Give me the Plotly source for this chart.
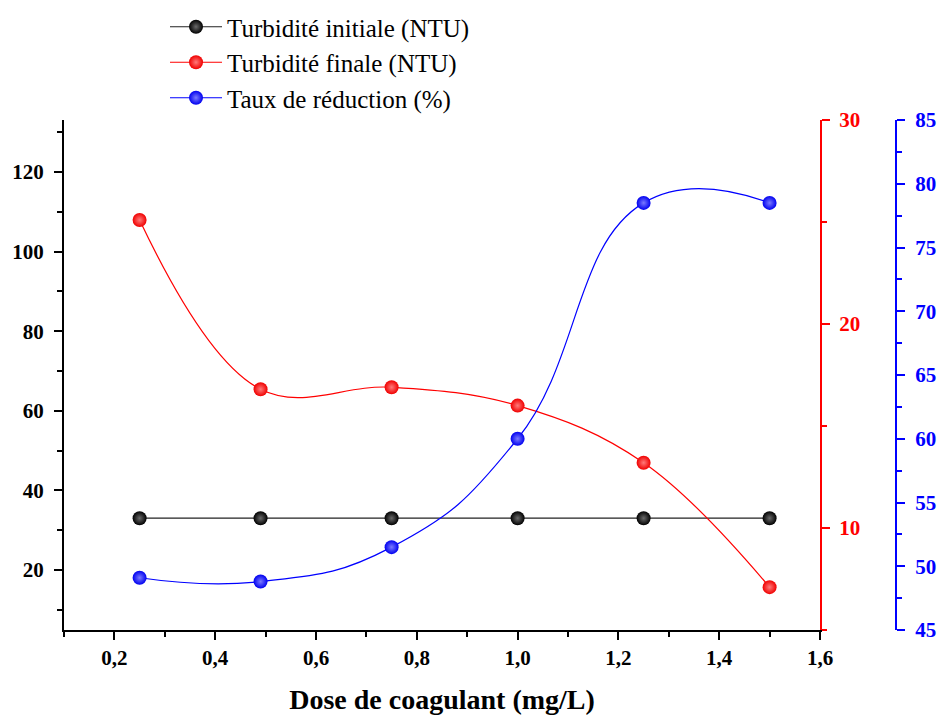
import plotly.graph_objects as go

# Coagulant dose (mg/L)
dose = [0.25, 0.49, 0.75, 1.0, 1.25, 1.5]
# Measured series
turb_initiale = [33, 33, 33, 33, 33, 33]
turb_finale = [25.1, 16.8, 16.9, 16.0, 13.2, 7.1]
taux_reduction = [49.1, 48.8, 51.5, 60.0, 78.5, 78.5]

names = ["Turbidité initiale (NTU)", "Turbidité finale (NTU)", "Taux de réduction (%)"]

FONT = "Liberation Serif"
W, H = 941, 718
ML, MR, MT, MB = 64, 10, 120, 88
plot_w = W - ML - MR
plot_h = H - MT - MB
x_end = (820 - ML) / plot_w
blue_pos = (896 - ML) / plot_w


def sphere(color, center):
    return dict(size=14, color=color, line=dict(width=0),
                gradient=dict(type="radial", color=center))


fig = go.Figure()
fig.add_trace(go.Scatter(
    x=dose, y=turb_initiale, name=names[0], legendgroup="a",
    mode="lines+markers", line=dict(color="#222222", width=1.2, shape="spline", smoothing=1.2),
    marker=sphere("#000000", "#6a6a6a"), yaxis="y"))
fig.add_trace(go.Scatter(
    x=dose, y=turb_finale, name=names[1], legendgroup="b",
    mode="lines+markers", line=dict(color="#ff0000", width=1.2, shape="spline", smoothing=1.1),
    marker=sphere("#f00000", "#ff7a7a"), yaxis="y2"))
fig.add_trace(go.Scatter(
    x=dose, y=taux_reduction, name=names[2], legendgroup="c",
    mode="lines+markers", line=dict(color="#0000ff", width=1.2, shape="spline", smoothing=1.3),
    marker=sphere("#0000f0", "#7a7aff"), yaxis="y3"))

tickfont = dict(family=FONT, size=21, weight="bold")

fig.update_layout(
    width=W, height=H,
    margin=dict(l=ML, r=MR, t=MT, b=MB, autoexpand=False),
    plot_bgcolor="white", paper_bgcolor="white",
    separators=", ",
    font=dict(family=FONT, color="black"),
    showlegend=True,
    legend=dict(
        x=(165 - ML) / plot_w, y=1 + (MT - 4) / plot_h,
        xanchor="left", yanchor="top",
        font=dict(family=FONT, size=25, color="black"),
        bgcolor="rgba(0,0,0,0)", tracegroupgap=0, itemwidth=52,
    ),
    xaxis=dict(
        domain=[0, x_end], range=[0.1, 1.6],
        tick0=0, dtick=0.2, tickformat=".1f",
        ticks="outside", ticklen=8, tickwidth=2, tickcolor="black",
        minor=dict(dtick=0.1, tick0=0, ticks="outside", ticklen=5, tickwidth=2, tickcolor="black"),
        showline=True, linecolor="black", linewidth=2,
        showgrid=False, zeroline=False,
        tickfont=tickfont,
        title=dict(text="Dose de coagulant (mg/L)", standoff=20,
                   font=dict(family=FONT, size=28, weight="bold", color="black")),
        automargin=False,
    ),
    yaxis=dict(
        range=[4.9, 133.1], tick0=0, dtick=20,
        ticks="outside", ticklen=8, tickwidth=2, tickcolor="black",
        minor=dict(dtick=10, tick0=0, ticks="outside", ticklen=5, tickwidth=2, tickcolor="black"),
        showline=True, linecolor="black", linewidth=2,
        showgrid=False, zeroline=False, ticklabelstandoff=6,
        tickfont=tickfont, automargin=False,
    ),
    yaxis2=dict(
        range=[5, 30], tick0=0, dtick=10, overlaying="y", side="right", anchor="x",
        ticks="outside", ticklen=8, tickwidth=2, tickcolor="#ff0000",
        minor=dict(dtick=5, tick0=0, ticks="outside", ticklen=5, tickwidth=2, tickcolor="#ff0000"),
        showline=True, linecolor="#ff0000", linewidth=2,
        showgrid=False, zeroline=False, ticklabelstandoff=5,
        tickfont=dict(family=FONT, size=21, weight="bold", color="#ff0000"),
        automargin=False,
    ),
    yaxis3=dict(
        range=[45, 85], tick0=0, dtick=5, overlaying="y", side="right",
        anchor="free", position=blue_pos,
        ticks="outside", ticklen=8, tickwidth=2, tickcolor="#0000ff",
        minor=dict(dtick=2.5, tick0=0, ticks="outside", ticklen=5, tickwidth=2, tickcolor="#0000ff"),
        showline=True, linecolor="#0000ff", linewidth=2,
        showgrid=False, zeroline=False, ticklabelstandoff=6,
        tickfont=dict(family=FONT, size=21, weight="bold", color="#0000ff"),
        automargin=False,
    ),
)

fig.write_html("out.html")
